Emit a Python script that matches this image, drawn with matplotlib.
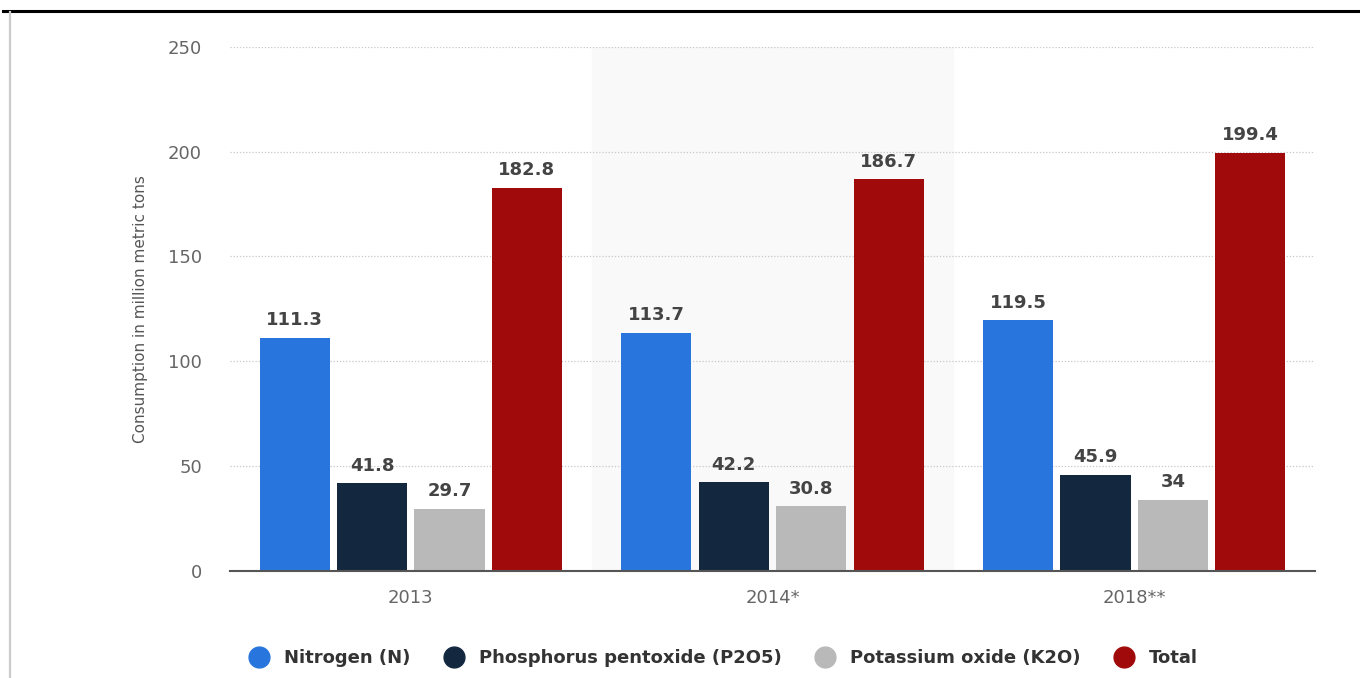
import matplotlib.pyplot as plt
import numpy as np
from matplotlib.lines import Line2D

years = ['2013', '2014*', '2018**']
series = ['Nitrogen (N)', 'Phosphorus pentoxide (P2O5)', 'Potassium oxide (K2O)', 'Total']
nitrogen = [111.3, 113.7, 119.5]
phosphorus = [41.8, 42.2, 45.9]
potassium = [29.7, 30.8, 34]
total = [182.8, 186.7, 199.4]
colors = ['#2876dd', '#13283f', '#b9b9b9', '#a10a0a']

fig = plt.figure(figsize=(13.6, 6.78), dpi=100)
ax = fig.add_axes([0.169, 0.158, 0.798, 0.773])

x = np.arange(len(years))
width = 0.194
step = 0.214
values = [nitrogen, phosphorus, potassium, total]

ax.axvspan(0.5, 1.5, color='#f9f9f9', zorder=0)

for i, vals in enumerate(values):
    pos = x + (i - 1.5) * step
    bars = ax.bar(pos, vals, width, color=colors[i], zorder=3, label=series[i])
    for b, v in zip(bars, vals):
        ax.text(b.get_x() + b.get_width() / 2, v + 4, f'{v:g}', ha='center', va='bottom',
                fontsize=13, fontweight='bold', color='#444444')

ax.set_xlim(-0.5, 2.5)
ax.set_ylim(0, 250)
ax.set_yticks([0, 50, 100, 150, 200, 250])
ax.set_xticks(x)
ax.set_xticklabels(years)
ax.yaxis.grid(True, linestyle=(0, (1, 1.5)), color='#c8c8c8', linewidth=0.9, zorder=1)
ax.set_axisbelow(True)
for s in ['top', 'right', 'left']:
    ax.spines[s].set_visible(False)
ax.spines['bottom'].set_color('#555555')
ax.spines['bottom'].set_linewidth(1.5)
ax.spines['bottom'].set_zorder(4)
ax.tick_params(axis='both', length=0, labelsize=13, colors='#666666')
ax.tick_params(axis='y', pad=20)
ax.tick_params(axis='x', pad=13)
ax.set_ylabel('Consumption in million metric tons', fontsize=11, color='#555555', labelpad=14)

handles = [Line2D([0], [0], marker='o', linestyle='', markersize=15, color=c) for c in colors]
leg = fig.legend(handles, series, loc='center', bbox_to_anchor=(0.529, 0.029), ncol=4,
                 frameon=False, handletextpad=0.4, columnspacing=1.4,
                 prop={'weight': 'bold', 'size': 13})
for t in leg.get_texts():
    t.set_color('#333333')

# frame lines around the page
fig.add_artist(Line2D([0.002, 1.0], [0.984, 0.984], color='black', linewidth=2.2))
fig.add_artist(Line2D([0.0075, 0.0075], [0.0, 0.982], color='#cccccc', linewidth=1.6))

fig.savefig('out.png', dpi=100)
